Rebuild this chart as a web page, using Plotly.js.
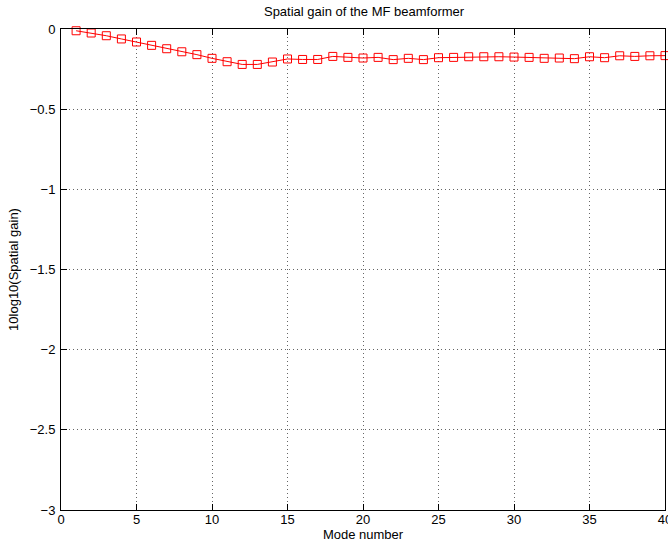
<!DOCTYPE html>
<html>
<head>
<meta charset="utf-8">
<script src="https://cdn.plot.ly/plotly-3.0.1.min.js"></script>
<style>html,body{margin:0;padding:0;background:#fff;}#chart{width:668px;height:542px;}</style>
</head>
<body>
<div id="chart"></div>
<script>
const modes = [1,2,3,4,5,6,7,8,9,10,11,12,13,14,15,16,17,18,19,20,21,22,23,24,25,26,27,28,29,30,31,32,33,34,35,36,37,38,39,40];
const gainDb = [-0.011,-0.025,-0.042,-0.062,-0.081,-0.102,-0.123,-0.142,-0.160,-0.183,-0.204,-0.221,-0.221,-0.206,-0.187,-0.190,-0.190,-0.171,-0.177,-0.181,-0.177,-0.191,-0.183,-0.191,-0.179,-0.177,-0.173,-0.173,-0.173,-0.175,-0.177,-0.183,-0.181,-0.185,-0.173,-0.179,-0.167,-0.171,-0.167,-0.166];
const xTicks = [0,5,10,15,20,25,30,35,40];
const yTicks = [-3,-2.5,-2,-1.5,-1,-0.5,0];
const yTickText = ['\u22123','\u22122.5','\u22122','\u22121.5','\u22121','\u22120.5','0'];

const font = {family: 'Liberation Sans, Arial, sans-serif', size: 13, color: '#000'};
const axisCommon = {
  showline: true, linecolor: '#000', linewidth: 1, mirror: 'ticks',
  ticks: 'inside', ticklen: 6, tickcolor: '#000', tickwidth: 1,
  showgrid: true, gridcolor: '#666', griddash: '1px,3px', gridwidth: 1,
  zeroline: false, tickfont: font, ticklabeloverflow: 'allow', automargin: false
};
const trace = {
  x: modes, y: gainDb, type: 'scatter', mode: 'lines+markers',
  line: {color: '#ff0000', width: 1},
  marker: {symbol: 'square-open', size: 8, color: '#ff0000', line: {width: 1, color: '#ff0000'}},
  showlegend: false, cliponaxis: false
};
const layout = {
  width: 668, height: 542,
  margin: {l: 61, r: 3, t: 29, b: 32},
  paper_bgcolor: '#fff', plot_bgcolor: '#fff',
  font: font,
  title: {text: 'Spatial gain of the MF beamformer', font: font, x: 0.545, xanchor: 'center', y: 0.978, yanchor: 'middle'},
  xaxis: Object.assign({}, axisCommon, {
    range: [0, 40], tickvals: xTicks, ticktext: xTicks.map(String), ticklabelstandoff: -3,
    title: {text: 'Mode number', font: font, standoff: 0}
  }),
  yaxis: Object.assign({}, axisCommon, {
    range: [-3, 0], tickvals: yTicks, ticktext: yTickText, ticklabelstandoff: 2,
    title: {text: '10log10(Spatial gain)', font: font, standoff: 8}
  })
};
Plotly.newPlot('chart', [trace], layout, {displayModeBar: false, staticPlot: true});
</script>
</body>
</html>
